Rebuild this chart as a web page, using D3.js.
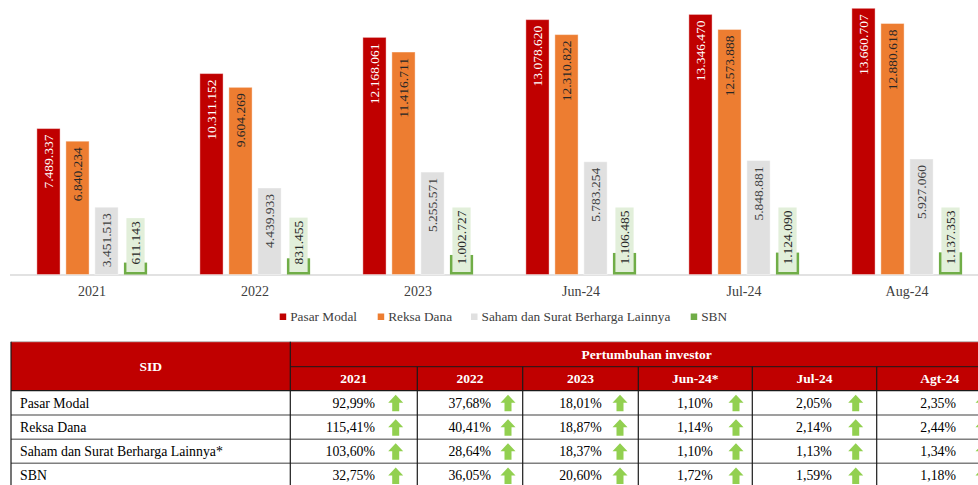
<!DOCTYPE html>
<html>
<head>
  <meta charset="utf-8">
  <script src="https://d3js.org/d3.v7.min.js"></script>
  <style>
    body { margin:0; background:#fff; }
    text { font-family: "Liberation Serif", "DejaVu Serif", serif; }
  </style>
</head>
<body>
  <script>
    // data
    var categories = ["2021", "2022", "2023", "Jun-24", "Jul-24", "Aug-24"];
    var seriesNames = ["Pasar Modal", "Reksa Dana", "Saham dan Surat Berharga Lainnya", "SBN"];
    var pasarModal = [7489337, 10311152, 12168061, 13078620, 13346470, 13660707];
    var reksaDana = [6840234, 9604269, 11416711, 12310822, 12573888, 12880618];
    var saham = [3451513, 4439933, 5255571, 5783254, 5848881, 5927060];
    var sbn = [611143, 831455, 1002727, 1106485, 1124090, 1137353];

    var tableCols = ["2021", "2022", "2023", "Jun-24*", "Jul-24", "Agt-24"];
    var tableRows = ["Pasar Modal", "Reksa Dana", "Saham dan Surat Berharga Lainnya*", "SBN"];
    var growthPasar = ["92,99%", "37,68%", "18,01%", "1,10%", "2,05%", "2,35%"];
    var growthReksa = ["115,41%", "40,41%", "18,87%", "1,14%", "2,14%", "2,44%"];
    var growthSaham = ["103,60%", "28,64%", "18,37%", "1,10%", "1,13%", "1,34%"];
    var growthSbn = ["32,75%", "36,05%", "20,60%", "1,72%", "1,59%", "1,18%"];

    var allSeries = [pasarModal, reksaDana, saham, sbn];
    var growth = [growthPasar, growthReksa, growthSaham, growthSbn];

    var colors = ["#c00000", "#ed7d31", "#e0e0e0", "#70ad47"];
    var labelColors = ["#ffffff", "#262626", "#404040", "#262626"];

    var svg = d3.select("body").append("svg")
      .attr("width", 978)
      .attr("height", 485);

    // chart
    var baseY = 274.5;
    var x0 = d3.scaleBand().domain(categories).range([10.5, 988.5])
      .paddingInner(0.288).paddingOuter(0.144);
    var x1 = d3.scaleBand().domain(d3.range(4)).range([0, x0.bandwidth()])
      .paddingInner(0.2).paddingOuter(0.1);
    var y = d3.scaleLinear().domain([0, 13660707]).range([baseY, 8.3]);

    svg.append("line")
      .attr("x1", 10).attr("x2", 978)
      .attr("y1", baseY + 0.5).attr("y2", baseY + 0.5)
      .attr("stroke", "#d9d9d9").attr("stroke-width", 1.5);

    var groups = svg.selectAll("g.cat").data(categories).enter()
      .append("g").attr("class", "cat")
      .attr("transform", function(d) { return "translate(" + x0(d) + ",0)"; });

    groups.each(function(cat, ci) {
      var g = d3.select(this);
      allSeries.forEach(function(vals, si) {
        var v = vals[ci];
        var bx = x1(si), bw = x1.bandwidth();
        g.append("rect")
          .attr("x", bx).attr("width", bw)
          .attr("y", y(v)).attr("height", baseY - y(v))
          .attr("fill", colors[si])
          .attr("stroke", si == 3 ? "none" : "#ffffff")
          .attr("stroke-opacity", 0.4).attr("stroke-width", 1);
        var label = d3.format(",")(v).replace(/,/g, ".");
        var cx = bx + bw / 2;
        if (si < 3) {
          g.append("text")
            .attr("transform", "translate(" + (cx + 4.7) + "," + (y(v) + 6) + ") rotate(-90)")
            .attr("text-anchor", "end")
            .attr("font-size", "13.5px")
            .attr("fill", labelColors[si])
            .text(label);
        } else {
          var t = g.append("text")
            .attr("transform", "translate(" + (cx + 4.7) + "," + (baseY - 10) + ") rotate(-90)")
            .attr("text-anchor", "start")
            .attr("font-size", "13.5px")
            .attr("fill", labelColors[si])
            .text(label);
          var len = t.node().getComputedTextLength();
          g.insert("rect", "text:last-of-type")
            .attr("x", bx + 2.5).attr("width", bw - 5)
            .attr("y", baseY - 10 - len - 3).attr("height", len + 3 + 10 - 2.5)
            .attr("fill", "#e2efda");
        }
      });
    });

    // category labels
    svg.selectAll("text.cat").data(categories).enter()
      .append("text").attr("class", "cat")
      .attr("x", function(d) { return x0(d) + x0.bandwidth() / 2; })
      .attr("y", 296)
      .attr("text-anchor", "middle")
      .attr("font-size", "14px")
      .attr("fill", "#404040")
      .text(function(d) { return d; });

    // legend
    var legendX = [279.7, 377.7, 471, 690.7];
    seriesNames.forEach(function(name, i) {
      svg.append("rect")
        .attr("x", legendX[i]).attr("y", 313.5)
        .attr("width", 6.5).attr("height", 6.5)
        .attr("fill", colors[i]);
      svg.append("text")
        .attr("x", legendX[i] + 10.5).attr("y", 321)
        .attr("font-size", "13.3px")
        .attr("fill", "#404040")
        .text(name);
    });

    // table
    var colEdges = [11, 290.3, 417.3, 522.7, 638.3, 752.3, 876.7, 1003];
    var rowEdges = [341.7, 366.7, 390.7, 415, 439.3, 463.3, 487.5];
    var arrowX = [395.7, 508, 620, 736, 855.7, 983];
    var valueRight = [375, 491, 601.7, 712.7, 831.7, 956];

    var tbl = svg.append("g");
    tbl.append("rect")
      .attr("x", colEdges[0]).attr("y", rowEdges[0])
      .attr("width", colEdges[7] - colEdges[0]).attr("height", rowEdges[2] - rowEdges[0])
      .attr("fill", "#c00000");
    tbl.append("line")
      .attr("x1", colEdges[0]).attr("x2", 978)
      .attr("y1", rowEdges[0]).attr("y2", rowEdges[0])
      .attr("stroke", "#bfbfbf").attr("stroke-width", 1);

    tbl.append("text")
      .attr("x", (colEdges[0] + colEdges[1]) / 2).attr("y", rowEdges[1] + 4.5)
      .attr("text-anchor", "middle").attr("font-size", "13.5px")
      .attr("font-weight", "bold").attr("fill", "#fff")
      .text("SID");
    tbl.append("text")
      .attr("x", (colEdges[1] + colEdges[7]) / 2).attr("y", (rowEdges[0] + rowEdges[1]) / 2 + 4.5)
      .attr("text-anchor", "middle").attr("font-size", "13.5px")
      .attr("font-weight", "bold").attr("fill", "#fff")
      .text("Pertumbuhan investor");
    tableCols.forEach(function(c, i) {
      tbl.append("text")
        .attr("x", (colEdges[i + 1] + colEdges[i + 2]) / 2).attr("y", (rowEdges[1] + rowEdges[2]) / 2 + 4.5)
        .attr("text-anchor", "middle").attr("font-size", "13.5px")
        .attr("font-weight", "bold").attr("fill", "#fff")
        .text(c);
    });

    // horizontal lines
    tbl.append("line")
      .attr("x1", colEdges[1]).attr("x2", 978)
      .attr("y1", rowEdges[1]).attr("y2", rowEdges[1])
      .attr("stroke", "#1a1a1a").attr("stroke-width", 1);
    tbl.append("line")
      .attr("x1", colEdges[0]).attr("x2", 978)
      .attr("y1", rowEdges[2]).attr("y2", rowEdges[2])
      .attr("stroke", "#1a1a1a").attr("stroke-width", 1.2);
    for (var r = 3; r < 6; r++) {
      tbl.append("line")
        .attr("x1", colEdges[0]).attr("x2", 978)
        .attr("y1", rowEdges[r]).attr("y2", rowEdges[r])
        .attr("stroke", "#7f7f7f").attr("stroke-width", 1.5);
    }
    // vertical lines
    colEdges.forEach(function(cx, i) {
      tbl.append("line")
        .attr("x1", cx).attr("x2", cx)
        .attr("y1", i >= 2 ? rowEdges[1] : rowEdges[0]).attr("y2", 485)
        .attr("stroke", "#1a1a1a").attr("stroke-width", 1.2);
    });

    tableRows.forEach(function(name, ri) {
      var cy = (rowEdges[ri + 2] + rowEdges[ri + 3]) / 2;
      tbl.append("text")
        .attr("x", 20).attr("y", cy + 4.7)
        .attr("font-size", "13.8px").attr("fill", "#000")
        .text(name);
      growth[ri].forEach(function(val, ci) {
        tbl.append("text")
          .attr("x", valueRight[ci]).attr("y", cy + 4.7)
          .attr("text-anchor", "end")
          .attr("font-size", "13.8px").attr("fill", "#000")
          .text(val);
        var ax = arrowX[ci], ay = cy - 8;
        tbl.append("path")
          .attr("d", "M" + ax + "," + ay +
            " L" + (ax + 7.5) + "," + (ay + 8) +
            " L" + (ax + 3.5) + "," + (ay + 8) +
            " L" + (ax + 3.5) + "," + (ay + 16.5) +
            " L" + (ax - 3.5) + "," + (ay + 16.5) +
            " L" + (ax - 3.5) + "," + (ay + 8) +
            " L" + (ax - 7.5) + "," + (ay + 8) + " Z")
          .attr("fill", "#92d050");
      });
    });
  </script>
</body>
</html>
